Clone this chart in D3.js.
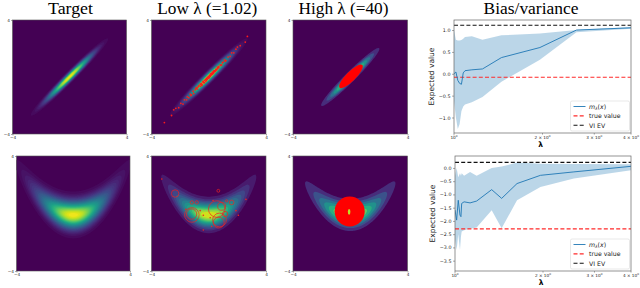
<!doctype html>
<html>
<head>
<meta charset="UTF-8">
<title>Bias/variance</title>
<script src="https://cdn.jsdelivr.net/npm/d3@7"></script>
<style>
  body { margin: 0; background: #fff; }
  text { font-family: "DejaVu Sans", sans-serif; }
  .title { font-family: "Liberation Serif", serif; font-size: 16.5px; }
</style>
</head>
<body>
<svg id="fig" width="640" height="288"></svg>
<script>
// ---------- bias / variance curves ----------
var lamTop  = [1.00, 1.015, 1.03, 1.045, 1.06, 1.075, 1.09, 1.15, 1.25, 1.45, 1.96, 2.61, 4.00];
var meanTop = [0.00, 0.04, -0.15, -0.22, -0.24, 0.02, 0.07, 0.09, 0.11, 0.37, 0.60, 1.00, 1.05];
var loTop   = [-0.62, -1.00, -1.26, -1.15, -0.85, -0.75, -0.70, -0.65, -0.53, -0.18, 0.32, 0.95, 1.03];
var hiTop   = [1.00, 0.78, 0.76, 0.76, 0.77, 0.80, 0.84, 0.86, 0.78, 0.88, 0.92, 1.00, 1.07];
var trueTop = -0.08, viTop = 1.11;

var lamBot  = [1.00, 1.013, 1.026, 1.040, 1.048, 1.054, 1.074, 1.126, 1.186, 1.335, 1.444, 1.63, 1.96, 2.55, 4.00];
var meanBot = [-1.59, -1.97, -1.22, -1.78, -1.84, -1.34, -1.28, -1.32, -1.25, -0.82, -1.15, -0.59, -0.28, -0.15, 0.06];
var loBot   = [-2.70, -3.10, -2.50, -3.10, -2.60, -2.40, -2.35, -2.30, -2.25, -1.60, -2.28, -1.22, -0.72, -0.40, -0.09];
var hiBot   = [-0.30, 0.00, -0.35, -0.20, -0.30, -0.20, -0.30, -0.15, -0.30, 0.00, 0.05, 0.20, 0.16, 0.15, 0.14];
var trueBot = -2.30, viBot = 0.21;

var yTicksTop = [1.0, 0.5, 0.0, -0.5, -1.0];
var yTicksBot = [0.0, -0.5, -1.0, -1.5, -2.0, -2.5, -3.0, -3.5];
var xTicks = [1, 2, 3, 4];
var xTickLabels = ["10", "2 \u00d7 10", "3 \u00d7 10", "4 \u00d7 10"];

// ---------- densities: [mux, muy, sx, sy, rho] and banana [sx, curvature, offset, sy] ----------
var gaussTarget = [0, 0, 1, 1, 0.98];
var gaussLow    = [0, 0, 1, 1, 0.975];
var gaussHigh   = [0, 0, 1, 1, 0.97];
var bananaTarget = [1.5, 0.22, -0.1, 0.6];
var bananaLow    = [1.45, 0.24, -0.1, 0.55];
var bananaHigh   = [1.55, 0.22, -0.1, 0.55];

// samples (data coords)
var lowTopPts = [[-3.1,-3.2],[-2.6,-2.7],[-2.45,-2.3],[-2.3,-2.2],[-2.1,-2.15],[-1.95,-1.85],[-1.8,-1.9],
  [-1.7,-1.6],[-1.55,-1.6],[-1.5,-1.4],[-1.4,-1.45],[-1.3,-1.2],[-1.2,-1.25],[-1.1,-1.0],[-1.05,-1.15],
  [-0.95,-0.9],[-0.9,-0.8],[-0.8,-0.85],[-0.75,-0.7],[-0.7,-0.6],[-0.6,-0.65],[-0.55,-0.5],[-0.5,-0.45],
  [-0.45,-0.55],[-0.4,-0.35],[-0.35,-0.4],[-0.3,-0.25],[-0.25,-0.2],[-0.2,-0.3],[-0.15,-0.1],[-0.1,-0.15],
  [-0.05,0.0],[0.0,0.05],[0.05,-0.02],[0.1,0.15],[0.15,0.1],[0.2,0.25],[0.25,0.2],[0.3,0.35],[0.35,0.3],
  [0.4,0.45],[0.45,0.4],[0.5,0.55],[0.55,0.5],[0.6,0.7],[0.7,0.65],[0.8,0.85],[0.9,0.85],[1.0,1.05],
  [1.1,1.2],[1.2,1.15],[1.35,1.4],[1.5,1.45],[1.6,1.7],[1.75,1.7],[1.9,1.95],[2.0,2.1],[2.2,2.2],
  [2.55,2.45],[2.7,2.85],
  [-0.6,-0.5],[-0.5,-0.6],[-0.4,-0.3],[-0.3,-0.4],[-0.2,-0.15],[-0.1,-0.05],[0.0,-0.08],[0.05,0.1],
  [0.1,0.05],[0.2,0.15],[0.25,0.32],[0.3,0.25],[0.4,0.38],[0.5,0.45],[0.6,0.58],[0.7,0.75],[0.85,0.8],
  [-0.15,-0.22],[0.12,0.22],[0.35,0.42],[-0.85,-0.75],[1.15,1.1],[-1.25,-1.3],[0.95,1.0]];
var lowBotCircles = [[-2.35,1.39,0.26],[0.67,1.58,0.10],[-1.18,-0.10,0.51],[-1.20,-0.04,0.36],
  [0.56,0.31,0.58],[0.90,0.50,0.28],[0.70,-0.63,0.38],[0.75,-0.45,0.48],[1.14,-0.04,0.19],
  [1.60,0.77,0.16],[-1.18,0.77,0.12],[-0.84,0.77,0.12],[1.25,0.88,0.08]];
var lowBotDots = [[-0.38,-0.12],[2.07,-0.12],[2.6,0.98],[-3.28,2.4],[-0.38,-1.15],[0.2,-0.9],
  [0.3,0.9],[-1.6,0.3],[1.9,0.2],[-0.6,0.2],[0.1,-0.3]];
var highTopBlob = [0.05, 0.04, 1.12, 0.33];   // cx, cy, semi-major (45deg), semi-minor
var highBotBlob = [-0.04, 0.14, 1.05];        // cx, cy, r
var highBotGap  = [-0.08, 0.12, 0.09, 0.2];   // cx, cy, rx, ry

// ---------- layout ----------
var boxes = [
  {x0: 12.5, x1: 126.5, y0: 20, y1: 134},
  {x0: 151.5, x1: 266, y0: 20, y1: 134},
  {x0: 293, x1: 407.5, y0: 20, y1: 134},
  {x0: 16.5, x1: 130, y0: 156, y1: 271},
  {x0: 151.5, x1: 266, y0: 156, y1: 271},
  {x0: 293, x1: 407.5, y0: 156, y1: 271}
];
var boxTop = {x0: 454, x1: 631, y0: 20, y1: 133};
var boxBot = {x0: 455, x1: 631, y0: 156, y1: 271};

var svg = d3.select("#fig");
var viridis = d3.interpolateViridis;

function gauss(p) {
  return function(x, y) {
    var dx = (x - p[0]) / p[2], dy = (y - p[1]) / p[3], r = p[4];
    return Math.exp(-(dx*dx - 2*r*dx*dy + dy*dy) / (2 * (1 - r*r)));
  };
}
function banana(p) {
  return function(x, y) {
    var dy = y - (p[1]*x*x + p[2]);
    return Math.exp(-x*x / (2*p[0]*p[0]) - dy*dy / (2*p[3]*p[3]));
  };
}

function densityPanel(b, f, n, levels, smooth) {
  var gx = d3.scaleLinear().domain([0, n]).range([-4, 4]);
  var gy = d3.scaleLinear().domain([0, n]).range([4, -4]);
  var vals = [], mx = 0;
  for (var j = 0; j < n; j++)
    for (var i = 0; i < n; i++) {
      var v = f(gx(i + 0.5), gy(j + 0.5));
      vals.push(v);
      if (v > mx) mx = v;
    }
  vals = vals.map(function(v){ return v / mx; });

  var px = d3.scaleLinear().domain([0, n]).range([b.x0, b.x1]);
  var py = d3.scaleLinear().domain([0, n]).range([b.y0, b.y1]);
  var path = d3.geoPath(d3.geoTransform({
    point: function(a, c){ this.stream.point(px(a), py(c)); }
  }));
  var th = d3.range(1, levels).map(function(k){ return k / levels; });

  var g = svg.append("g");
  g.append("rect")
    .attr("x", b.x0).attr("y", b.y0)
    .attr("width", b.x1 - b.x0).attr("height", b.y1 - b.y0)
    .attr("fill", viridis(0));
  g.selectAll("path")
    .data(d3.contours().size([n, n]).thresholds(th)(vals))
    .enter().append("path")
    .attr("d", path)
    .attr("fill", function(d){ return viridis(d.value); });

  var sx = d3.scaleLinear().domain([-4, 4]).range([b.x0, b.x1]);
  var sy = d3.scaleLinear().domain([-4, 4]).range([b.y1, b.y0]);
  return {g: g, sx: sx, sy: sy, b: b};
}

function frameAndTicks(p) {
  var b = p.b;
  p.g.append("rect")
    .attr("x", b.x0).attr("y", b.y0)
    .attr("width", b.x1 - b.x0).attr("height", b.y1 - b.y0)
    .attr("fill", "none").attr("stroke", "#555").attr("stroke-width", 0.6);
  var ax = p.g.append("g").attr("transform", "translate(0," + b.y1 + ")")
    .call(d3.axisBottom(p.sx).tickValues([-4, 4]).tickSize(1.5).tickPadding(1).tickFormat(d3.format("d")));
  var ay = p.g.append("g").attr("transform", "translate(" + b.x0 + ",0)")
    .call(d3.axisLeft(p.sy).tickValues([-4, 4]).tickSize(1.5).tickPadding(1).tickFormat(d3.format("d")));
  [ax, ay].forEach(function(a){
    a.select(".domain").remove();
    a.selectAll("line").attr("stroke", "#555").attr("stroke-width", 0.5);
    a.selectAll("text").attr("font-size", 4.2).attr("fill", "#222");
  });
}

// top row
var p1 = densityPanel(boxes[0], gauss(gaussTarget), 160, 40, true);
frameAndTicks(p1);

var p2 = densityPanel(boxes[1], gauss(gaussLow), 160, 40, true);
p2.g.selectAll("circle.s").data(lowTopPts).enter().append("circle")
  .attr("cx", function(d){ return p2.sx(d[0]); })
  .attr("cy", function(d){ return p2.sy(d[1]); })
  .attr("r", 0.9).attr("fill", "#ff1a1a");
frameAndTicks(p2);

var p3 = densityPanel(boxes[2], gauss(gaussHigh), 160, 8, false);
p3.g.append("ellipse")
  .attr("cx", p3.sx(highTopBlob[0])).attr("cy", p3.sy(highTopBlob[1]))
  .attr("rx", p3.sx(highTopBlob[2]) - p3.sx(0)).attr("ry", p3.sx(highTopBlob[3]) - p3.sx(0))
  .attr("transform", "rotate(-45," + p3.sx(highTopBlob[0]) + "," + p3.sy(highTopBlob[1]) + ")")
  .attr("fill", "red");
frameAndTicks(p3);

// bottom row
var p4 = densityPanel(boxes[3], banana(bananaTarget), 120, 40, true);
frameAndTicks(p4);

var p5 = densityPanel(boxes[4], banana(bananaLow), 60, 14, true);
p5.g.selectAll("circle.c").data(lowBotCircles).enter().append("circle")
  .attr("cx", function(d){ return p5.sx(d[0]); })
  .attr("cy", function(d){ return p5.sy(d[1]); })
  .attr("r", function(d){ return p5.sx(d[2]) - p5.sx(0); })
  .attr("fill", "none").attr("stroke", "#ee2222").attr("stroke-width", 0.7);
p5.g.selectAll("circle.d").data(lowBotDots).enter().append("circle")
  .attr("cx", function(d){ return p5.sx(d[0]); })
  .attr("cy", function(d){ return p5.sy(d[1]); })
  .attr("r", 0.8).attr("fill", "#ee2222");
frameAndTicks(p5);

var p6 = densityPanel(boxes[5], banana(bananaHigh), 120, 8, false);
p6.g.append("circle")
  .attr("cx", p6.sx(highBotBlob[0])).attr("cy", p6.sy(highBotBlob[1]))
  .attr("r", p6.sx(highBotBlob[2]) - p6.sx(0)).attr("fill", "red");
p6.g.append("ellipse")
  .attr("cx", p6.sx(highBotGap[0])).attr("cy", p6.sy(highBotGap[1]))
  .attr("rx", p6.sx(highBotGap[2]) - p6.sx(0)).attr("ry", p6.sx(highBotGap[3]) - p6.sx(0))
  .attr("fill", viridis(0.9));
frameAndTicks(p6);

// ---------- bias / variance panels ----------
function biasPanel(b, lam, mean, lo, hi, trueV, viV, ydom, yticks) {
  var x = d3.scaleLog().domain([1, 4]).range([b.x0, b.x1]);
  var y = d3.scaleLinear().domain(ydom).range([b.y1, b.y0]);
  var idx = d3.range(lam.length);
  var clipId = "clip" + Math.round(b.y0);
  svg.append("clipPath").attr("id", clipId).append("rect")
    .attr("x", b.x0).attr("y", b.y0).attr("width", b.x1 - b.x0).attr("height", b.y1 - b.y0);
  var g = svg.append("g");
  var inner = g.append("g").attr("clip-path", "url(#" + clipId + ")");

  inner.append("path").datum(idx)
    .attr("d", d3.area()
      .x(function(i){ return x(lam[i]); })
      .y0(function(i){ return y(lo[i]); })
      .y1(function(i){ return y(hi[i]); }))
    .attr("fill", "#1f77b4").attr("fill-opacity", 0.3);
  inner.append("line")
    .attr("x1", b.x0).attr("x2", b.x1).attr("y1", y(trueV)).attr("y2", y(trueV))
    .attr("stroke", "#ff2a2a").attr("stroke-width", 1.1).attr("stroke-dasharray", "4,2.2");
  inner.append("line")
    .attr("x1", b.x0).attr("x2", b.x1).attr("y1", y(viV)).attr("y2", y(viV))
    .attr("stroke", "#111").attr("stroke-width", 1.1).attr("stroke-dasharray", "4,2.2");
  inner.append("path").datum(idx)
    .attr("d", d3.line()
      .x(function(i){ return x(lam[i]); })
      .y(function(i){ return y(mean[i]); }))
    .attr("fill", "none").attr("stroke", "#1f77b4").attr("stroke-width", 0.9);

  g.append("rect")
    .attr("x", b.x0).attr("y", b.y0).attr("width", b.x1 - b.x0).attr("height", b.y1 - b.y0)
    .attr("fill", "none").attr("stroke", "#666").attr("stroke-width", 0.7);

  var ay = g.append("g").attr("transform", "translate(" + b.x0 + ",0)")
    .call(d3.axisLeft(y).tickValues(yticks).tickSize(2).tickPadding(1.5).tickFormat(d3.format(".1f")));
  ay.select(".domain").remove();
  ay.selectAll("line").attr("stroke", "#555").attr("stroke-width", 0.5);
  ay.selectAll("text").attr("font-size", 4.8).attr("fill", "#222");

  var ax = g.append("g").attr("transform", "translate(0," + b.y1 + ")");
  ax.selectAll("line").data(xTicks).enter().append("line")
    .attr("x1", function(d){ return x(d); }).attr("x2", function(d){ return x(d); })
    .attr("y1", 0).attr("y2", function(d, i){ return i === 0 ? 2.5 : 1.6; })
    .attr("stroke", "#555").attr("stroke-width", 0.5);
  var lbl = ax.selectAll("text").data(xTicks).enter().append("text")
    .attr("x", function(d){ return x(d); }).attr("y", 5.8)
    .attr("text-anchor", "middle").attr("font-size", 4.2).attr("fill", "#222");
  lbl.append("tspan").text(function(d, i){ return xTickLabels[i]; });
  lbl.append("tspan").attr("dy", -1.8).attr("font-size", 2.8).text("0");

  g.append("text").attr("x", (b.x0 + b.x1) / 2 - 2).attr("y", b.y1 + 14)
    .attr("text-anchor", "middle").attr("font-size", 7.5).attr("font-weight", "bold").text("\u03bb");
  g.append("text")
    .attr("transform", "translate(" + (b.x0 - 20) + "," + ((b.y0 + b.y1) / 2) + ") rotate(-90)")
    .attr("text-anchor", "middle").attr("font-size", 7.5).attr("fill", "#222").text("Expected value");

  // legend
  var lw = 59, lh = 30, lx = b.x1 - lw - 1.5, ly = b.y1 - lh - 2;
  var lg = g.append("g").attr("transform", "translate(" + lx + "," + ly + ")");
  lg.append("rect").attr("width", lw).attr("height", lh).attr("rx", 1.5)
    .attr("fill", "#fff").attr("fill-opacity", 0.85).attr("stroke", "#d0d0d0").attr("stroke-width", 0.5);
  var items = [
    {c: "#1f77b4", dash: null},
    {c: "#ff2a2a", dash: "4,2.2"},
    {c: "#111", dash: "4,2.2"}
  ];
  lg.selectAll("line").data(items).enter().append("line")
    .attr("x1", 3).attr("x2", 15).attr("y1", function(d, i){ return 5.5 + i * 9.4; })
    .attr("y2", function(d, i){ return 5.5 + i * 9.4; })
    .attr("stroke", function(d){ return d.c; }).attr("stroke-width", function(d, i){ return i ? 1.1 : 0.9; })
    .attr("stroke-dasharray", function(d){ return d.dash; });
  var t0 = lg.append("text").attr("x", 18.5).attr("y", 7.7).attr("font-size", 6.2).attr("fill", "#222");
  t0.append("tspan").attr("font-style", "italic").text("m");
  t0.append("tspan").attr("font-size", 4.3).attr("dy", 1.3).attr("font-style", "italic").text("\u03bb");
  t0.append("tspan").attr("dy", -1.3).text("(");
  t0.append("tspan").attr("font-style", "italic").text("x");
  t0.append("tspan").text(")");
  lg.append("text").attr("x", 18.5).attr("y", 17.1).attr("font-size", 6.2).attr("fill", "#222").text("true value");
  lg.append("text").attr("x", 18.5).attr("y", 26.5).attr("font-size", 6.2).attr("fill", "#222").text("VI EV");
}

biasPanel(boxTop, lamTop, meanTop, loTop, hiTop, trueTop, viTop, [-1.354, 1.229], yTicksTop);
biasPanel(boxBot, lamBot, meanBot, loBot, hiBot, trueBot, viBot, [-3.89, 0.45], yTicksBot);

// ---------- titles ----------
var titles = ["Target", "Low \u03bb (=1.02)", "High \u03bb (=40)", "Bias/variance"];
var titleX = [70.5, 207.3, 343.5, 531];
var titleW = [45, 100, 90, 95];
svg.selectAll("text.title").data(titles).enter().append("text")
  .attr("class", "title")
  .attr("x", function(d, i){ return titleX[i]; }).attr("y", 13.5)
  .attr("text-anchor", "middle")
  .attr("textLength", function(d, i){ return titleW[i]; })
  .attr("lengthAdjust", "spacingAndGlyphs")
  .text(function(d){ return d; });
</script>
</body>
</html>
